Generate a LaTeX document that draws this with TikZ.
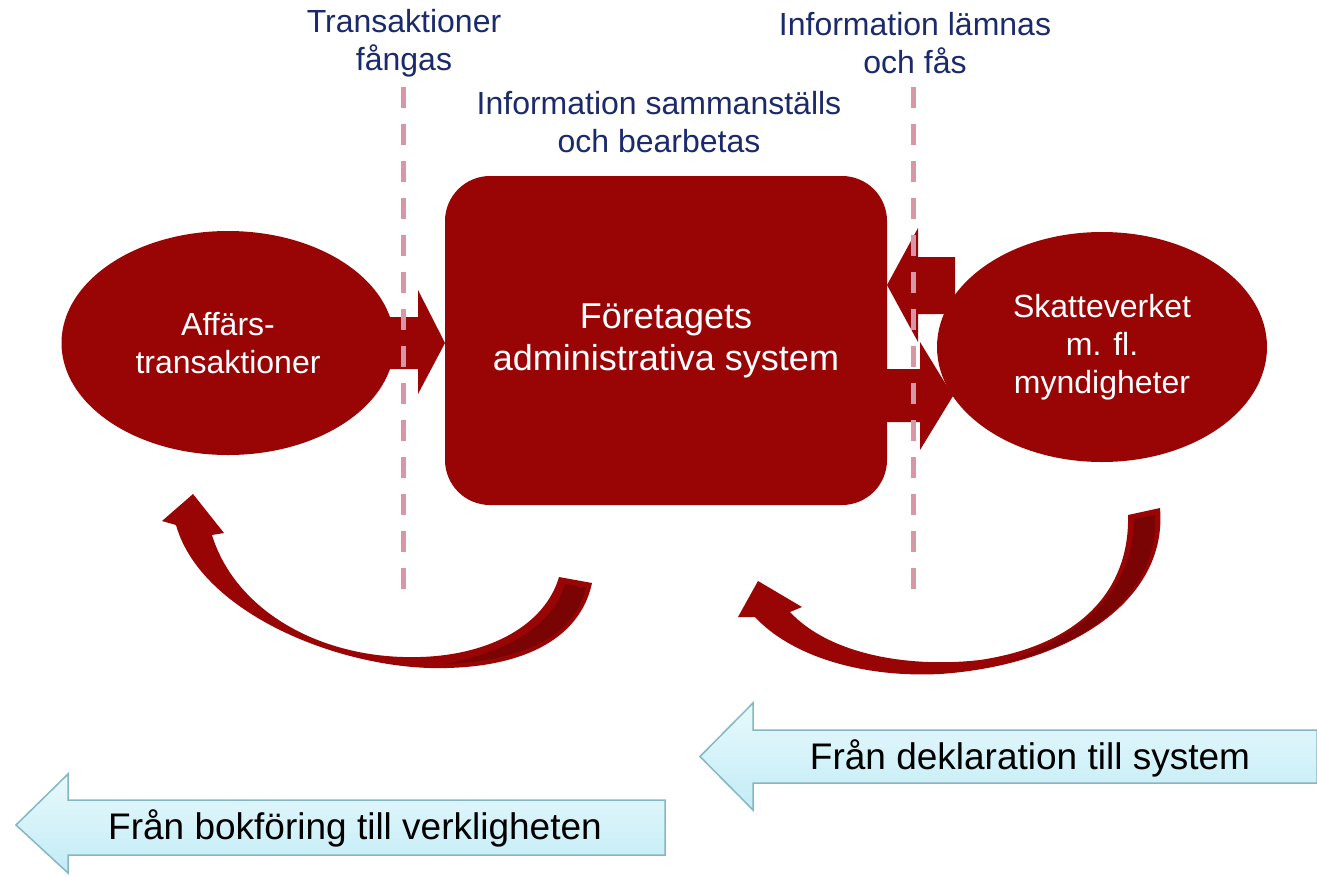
\documentclass[tikz,border=0pt]{standalone}
\usepackage{fontspec}
\setmainfont{Liberation Sans}
\usetikzlibrary{shapes.geometric}
\definecolor{dred}{HTML}{990505}
\definecolor{ddark}{HTML}{7A0404}
\definecolor{navy}{HTML}{1B2A6B}
\definecolor{dashc}{HTML}{D897A6}
\definecolor{cyanb}{HTML}{84B7C3}
\definecolor{cyant}{HTML}{E8F9FC}
\definecolor{cyanbot}{HTML}{C2ECF6}
\begin{document}
\begin{tikzpicture}[x=1pt,y=-1pt,
  redshape/.style={fill=dred,draw=none},
  toplabel/.style={text=navy,align=center,inner sep=0pt,font=\fontsize{32}{38}\selectfont},
  ellnode/.style={ellipse,fill=dred,draw=none,text=white,align=center,inner sep=0pt,font=\fontsize{32}{38}\selectfont},
  boxnode/.style={rectangle,rounded corners=45pt,fill=dred,draw=none,text=white,align=center,font=\fontsize{36}{42}\selectfont},
  divider/.style={dashc,line width=5pt,dash pattern=on 21pt off 16pt},
  bluearrow/.style={top color=cyant,bottom color=cyanbot,draw=cyanb,line width=1.5pt},
  bluetext/.style={text=black,inner sep=0pt,font=\fontsize{37}{42}\selectfont}
]
\useasboundingbox (0,0) rectangle (1317,876);

% block arrows
\fill[dred] (385,317) -- (418,317) -- (418,290) -- (445,343) -- (418,394) -- (418,369) -- (385,369) -- cycle;
\fill[dred] (955,257) -- (918,257) -- (918,228) -- (887,285) -- (918,342) -- (918,314) -- (955,314) -- cycle;
\fill[dred] (885,369) -- (920,369) -- (920,342) -- (953,396) -- (920,450) -- (920,422) -- (885,422) -- cycle;

% main nodes
\node[ellnode,minimum width=333pt,minimum height=224pt] (aff) at (228,343) {Affärs-\\transaktioner};
\node[boxnode,minimum width=442pt,minimum height=329pt] (sys) at (666,340.5) {Företagets\\administrativa system};
\node[ellnode,minimum width=330pt,minimum height=230pt] (skv) at (1102,347) {Skatteverket\\m. fl.\\myndigheter};

% labels
\node[toplabel] (l1) at (404,43) {Transaktioner\\fångas};
\node[toplabel] (l2) at (915,43) {Information lämnas\\och fås};
\node[toplabel] (l3) at (659,122) {Information sammanställs\\och bearbetas};

% dashed dividers
\coordinate (d1a) at (403,87); \coordinate (d1b) at (403,592);
\coordinate (d2a) at (913,87); \coordinate (d2b) at (913,592);
\draw[divider] (d1a) -- (d1b);
\draw[divider] (d2a) -- (d2b);

% left curved arrow
\fill[dred] (193,494) -- (224,533) -- (212,535)
  .. controls (235,610) and (320,660) .. (420,657)
  .. controls (490,655) and (545,625) .. (559,577)
  -- (592,583)
  .. controls (580,640) and (520,670) .. (430,668)
  .. controls (330,665) and (200,610) .. (176,525)
  -- (162,521) -- cycle;
\fill[ddark] (565,584) -- (586,588)
  .. controls (574,638) and (520,661) .. (445,664)
  .. controls (505,652) and (552,628) .. (565,584) -- cycle;

% right curved arrow
\fill[dred] (758,581) -- (802,607) -- (790,612)
  .. controls (830,655) and (910,668) .. (980,660)
  .. controls (1080,645) and (1130,590) .. (1128,515)
  -- (1160,508)
  .. controls (1168,600) and (1070,665) .. (940,674)
  .. controls (860,678) and (790,655) .. (755,617)
  -- (738,617) -- cycle;
\fill[ddark] (1134,519) -- (1155,515)
  .. controls (1160,590) and (1090,645) .. (1005,662)
  .. controls (1080,638) and (1134,590) .. (1134,519) -- cycle;

% bottom arrows
\shade[bluearrow] (1317,730) -- (753,730) -- (753,703) -- (700,756.5) -- (753,810) -- (753,783) -- (1317,783) -- cycle;
\node[bluetext] (t1) at (1030,758) {Från deklaration till system};
\shade[bluearrow] (665,800) -- (68,800) -- (68,774) -- (16,825) -- (68,873) -- (68,855) -- (665,855) -- cycle;
\node[bluetext] (t2) at (355,828) {Från bokföring till verkligheten};
\end{tikzpicture}
\end{document}
